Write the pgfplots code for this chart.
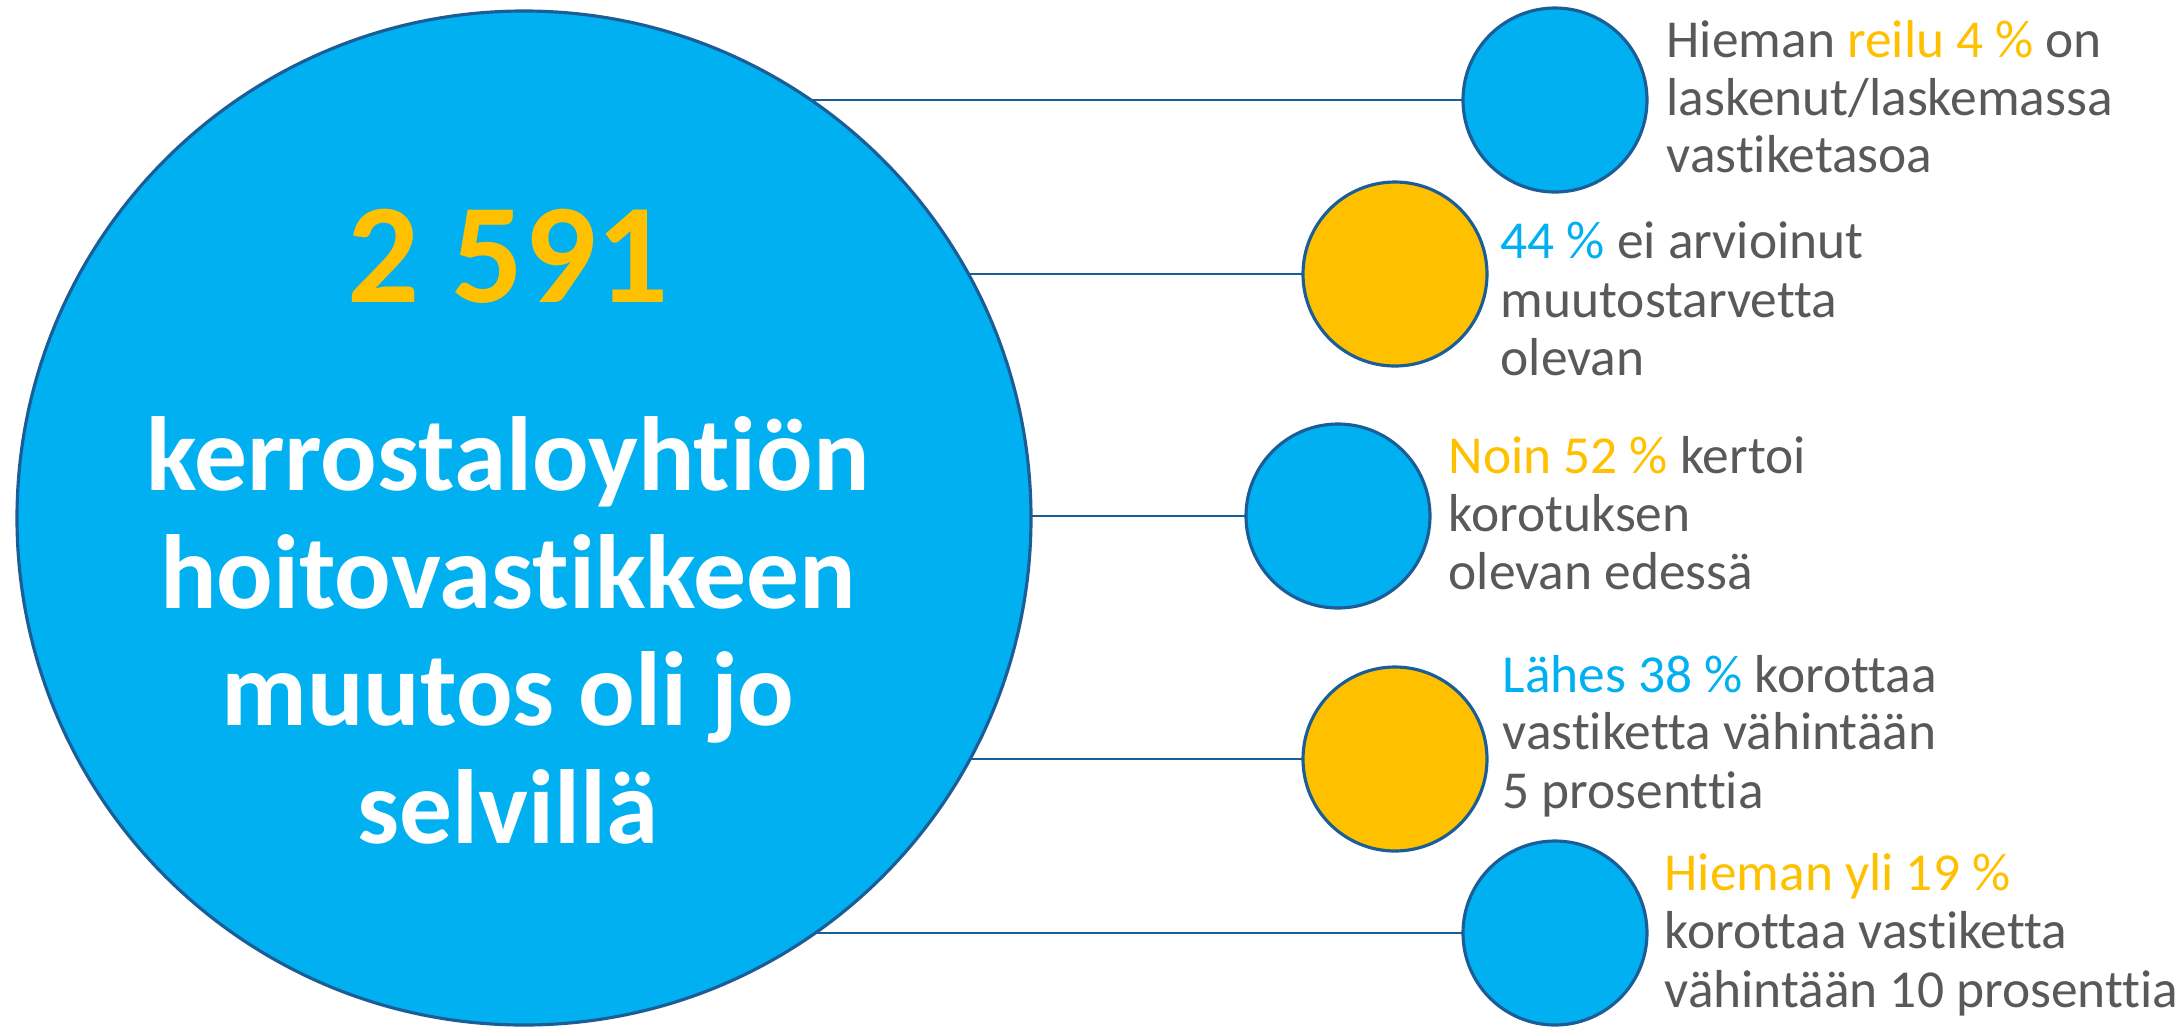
\documentclass[border=0pt]{standalone}
\usepackage{pgfplots}
\pgfplotsset{compat=1.18}
\usepackage{fontspec}
\setmainfont{Carlito}[Ligatures={NoCommon}]
\definecolor{cblue}{HTML}{00B0F0}
\definecolor{cgold}{HTML}{FFC000}
\definecolor{cgray}{HTML}{595959}
\definecolor{cline}{HTML}{1B5E97}
\begin{document}
\begin{tikzpicture}
\begin{axis}[
  scale only axis, width=21.81cm, height=10.27cm,
  xmin=0, xmax=2181, ymin=0, ymax=1027, y dir=reverse,
  hide axis, clip=false]
\path (rel axis cs:0,0) rectangle (rel axis cs:1,1);
% connector lines
\addplot[cline, line width=0.8pt] coordinates {(524,100) (1555,100)};
\addplot[cline, line width=0.8pt] coordinates {(524,274) (1395,274)};
\addplot[cline, line width=0.8pt] coordinates {(524,516) (1338,516)};
\addplot[cline, line width=0.8pt] coordinates {(524,759) (1395,759)};
\addplot[cline, line width=0.8pt] coordinates {(524,933) (1555,933)};
% big circle
\draw[cline, line width=0.9pt, fill=cblue] (axis cs:524,518) circle[radius=507];
% small circles
\draw[cline, line width=0.9pt, fill=cblue] (axis cs:1555,100) circle[radius=92];
\draw[cline, line width=0.9pt, fill=cgold] (axis cs:1395,274) circle[radius=92];
\draw[cline, line width=0.9pt, fill=cblue] (axis cs:1338,516) circle[radius=92];
\draw[cline, line width=0.9pt, fill=cgold] (axis cs:1395,759) circle[radius=92];
\draw[cline, line width=0.9pt, fill=cblue] (axis cs:1555,933) circle[radius=92];
% big text
\node[anchor=base, text=cgold, font=\fontsize{40.5}{44}\selectfont\bfseries, inner sep=0pt] at (axis cs:508,302) {2 591};
\begin{scope}[every node/.style={anchor=base, text=white, font=\fontsize{30}{34}\selectfont\bfseries, inner sep=0pt}]
\node at (axis cs:508,490) {kerrostaloyhtiön};
\node at (axis cs:508,608) {hoitovastikkeen};
\node at (axis cs:508,725) {muutos oli jo};
\node at (axis cs:508,843) {selvillä};
\end{scope}
% right texts
\begin{scope}[every node/.style={anchor=base west, text=cgray, font=\fontsize{15.2}{17}\selectfont, inner sep=0pt}]
\node at (axis cs:1666,57) {Hieman \textcolor{cgold}{reilu 4 \%} on};
\node at (axis cs:1666,115) {laskenut/laskemassa};
\node at (axis cs:1666,172) {vastiketasoa};
\node at (axis cs:1500,258) {\textcolor{cblue}{44 \%} ei arvioinut};
\node at (axis cs:1500,317) {muutostarvetta};
\node at (axis cs:1500,375) {olevan};
\node at (axis cs:1448,473) {\textcolor{cgold}{Noin 52 \%} kertoi};
\node at (axis cs:1448,531) {korotuksen};
\node at (axis cs:1448,589) {olevan edessä};
\node at (axis cs:1502,692) {\textcolor{cblue}{Lähes 38 \%} korottaa};
\node at (axis cs:1502,749) {vastiketta vähintään};
\node at (axis cs:1502,808) {5 prosenttia};
\node at (axis cs:1664,890) {\textcolor{cgold}{Hieman yli 19 \%}};
\node at (axis cs:1664,948) {korottaa vastiketta};
\node at (axis cs:1664,1007) {vähintään 10 prosenttia};
\end{scope}
\end{axis}
\end{tikzpicture}
\end{document}
